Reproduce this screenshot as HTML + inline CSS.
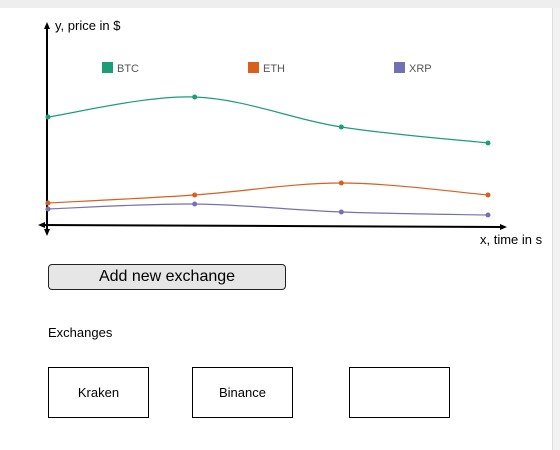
<!DOCTYPE html>
<html><head><meta charset="utf-8"><style>
body{margin:0;width:560px;height:450px;background:#fff;font-family:"Liberation Sans",sans-serif;position:relative;overflow:hidden}
.top{position:absolute;left:0;top:0;width:560px;height:8px;background:#eee}
.rb{position:absolute;left:552px;top:8px;width:8px;height:442px;background:#f2f2f2;border-left:1px solid #ddd}
.btn{position:absolute;left:48px;top:264px;width:236px;height:24px;border:1px solid #222;border-radius:4px;background:#e6e6e6;font-size:16px;text-align:center;line-height:24px;color:#000}
.lbl{position:absolute;left:48px;top:325px;font-size:13px}
.box{position:absolute;top:367px;width:99px;height:49px;border:1px solid #000;font-size:13px;text-align:center;line-height:49px}
</style></head><body>
<div class="top"></div>
<div class="rb"></div>
<svg id="chart" width="560" height="250" style="position:absolute;left:0;top:0"></svg>
<div class="btn">Add new exchange</div>
<div class="lbl">Exchanges</div>
<div class="box" style="left:48px">Kraken</div>
<div class="box" style="left:192px">Binance</div>
<div class="box" style="left:349px"></div>
<script>
const times=[0,1,2,3];
const seriesNames=["BTC","ETH","XRP"];
const btc=[108,128,98,82];
const eth=[22,30,42,30];
const xrp=[16,21,13,10];
const colors=["#1a9e77","#d95f1c","#7570b3"];
const svg=document.getElementById('chart');
const NS='http://www.w3.org/2000/svg';
const xs=t=>48+t*(488-48)/3;
const ys=v=>225-v*(225-97)/128;
function el(tag,a){const e=document.createElementNS(NS,tag);for(const k in a)e.setAttribute(k,a[k]);svg.appendChild(e);return e;}
let e;
e=el('line',{x1:47,y1:27,x2:47,y2:232,stroke:'#000','stroke-width':2});


e=el('line',{x1:41,y1:225,x2:502,y2:227,stroke:'#000','stroke-width':2});


el('polygon',{points:'47,22 44,29 50,29',fill:'#000'});
el('polygon',{points:'47,236 44,229 50,229',fill:'#000'});
el('polygon',{points:'38,225 45,222 45,228',fill:'#000'});
el('polygon',{points:'507,227 500,224 500,230',fill:'#000'});
e=el('text',{x:55,y:30,'font-size':13,fill:'#000'});e.textContent='y, price in $';


e=el('text',{x:480,y:244,'font-size':13,fill:'#000'});e.textContent='x, time in s';


const lx=[102,248,394];
[btc,eth,xrp].forEach((d,si)=>{
  const pts=d.map((v,i)=>[xs(times[i]),ys(v)]);
  let p='M'+pts[0][0]+','+pts[0][1];
  for(let i=0;i<pts.length-1;i++){
    const p0=pts[Math.max(0,i-1)],p1=pts[i],p2=pts[i+1],p3=pts[Math.min(pts.length-1,i+2)];
    const c1=[p1[0]+(p2[0]-p0[0])/6,p1[1]+(p2[1]-p0[1])/6];
    const c2=[p2[0]-(p3[0]-p1[0])/6,p2[1]-(p3[1]-p1[1])/6];
    p+=' C'+c1+' '+c2+' '+p2;
  }
  const l=el('path',{d:p,fill:'none',stroke:colors[si],'stroke-width':1.2});
  
  
  pts.forEach(q=>{const c=el('circle',{cx:q[0],cy:q[1],r:2.5,fill:colors[si]});
    
    });
  const r=el('rect',{x:lx[si],y:62,width:11,height:11,fill:colors[si]});
  
  
  const t=el('text',{x:lx[si]+15,y:72,'font-size':11,fill:'#555'});t.textContent=seriesNames[si];
  
  
});
</script>
</body></html>
